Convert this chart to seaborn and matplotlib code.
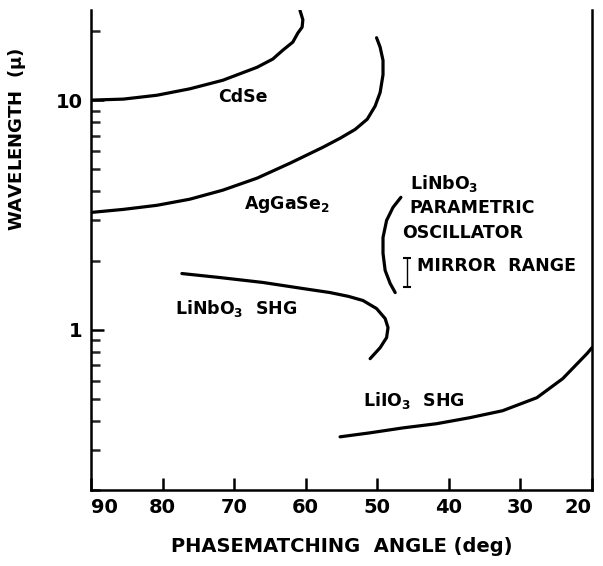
import numpy as np
import pandas as pd
import matplotlib
matplotlib.use("Agg")
import matplotlib.pyplot as plt
import seaborn as sns
from matplotlib.ticker import FixedLocator, NullFormatter, FixedFormatter

# ---- data (angle in deg, wavelength in microns) ----
cdse_angle = [90.0, 85.5, 80.8, 76.2, 71.6, 66.8, 64.6, 63.2, 61.8, 61.1, 60.5, 60.4, 60.8]
cdse_wl = [10.0, 10.1, 10.5, 11.2, 12.2, 13.9, 15.1, 16.5, 17.9, 19.6, 20.8, 22.4, 24.6]

aggase_angle = [90.0, 85.5, 80.8, 76.2, 71.6, 66.8, 62.2, 57.6, 55.2, 53.1, 51.4, 50.3, 49.6,
                49.2, 49.2, 49.6, 50.1]
aggase_wl = [3.24, 3.34, 3.48, 3.70, 4.05, 4.57, 5.31, 6.23, 6.82, 7.45, 8.26, 9.42, 10.8,
             12.9, 14.9, 17.0, 18.7]

linbo_shg_angle = [77.3, 72.0, 66.0, 60.4, 56.6, 54.0, 52.0, 50.1, 48.9, 48.5, 48.7, 49.6, 51.0]
linbo_shg_wl = [1.755, 1.686, 1.605, 1.51, 1.45, 1.395, 1.339, 1.235, 1.117, 1.02, 0.923,
                0.834, 0.747]

liio_angle = [55.2, 51.0, 46.4, 41.7, 37.1, 32.5, 27.7, 24.1, 20.7, 20.0]
liio_wl = [0.341, 0.355, 0.373, 0.389, 0.413, 0.443, 0.505, 0.611, 0.786, 0.834]

opo_angle = [46.7, 47.8, 48.7, 49.2, 49.2, 48.9, 48.2, 47.5]
opo_wl = [3.77, 3.41, 2.99, 2.52, 2.15, 1.81, 1.588, 1.45]

mirror_angle = 45.9
mirror_lo, mirror_hi = 1.53, 2.06

x_ticks = [90, 80, 70, 60, 50, 40, 30, 20]
y_major = [1, 10]
y_major_labels = ["1", "10"]
y_minor = [0.2, 0.3, 0.4, 0.5, 0.6, 0.7, 0.8, 0.9, 2, 3, 4, 5, 6, 7, 8, 9, 20]

xlabel = "PHASEMATCHING  ANGLE (deg)"
ylabel = "WAVELENGTH  ($\\mu$)"

# ---- build long table ----
frames = []
for name, a, w in [("CdSe", cdse_angle, cdse_wl),
                   ("AgGaSe2", aggase_angle, aggase_wl),
                   ("LiNbO3 SHG", linbo_shg_angle, linbo_shg_wl),
                   ("LiIO3 SHG", liio_angle, liio_wl),
                   ("OPO", opo_angle, opo_wl)]:
    frames.append(pd.DataFrame({"angle": a, "wl": w, "crystal": name}))
df = pd.concat(frames, ignore_index=True)

sns.set_theme(style="ticks")
plt.rcParams["font.family"] = ["DejaVu Sans"]
plt.rcParams["mathtext.fontset"] = "custom"
plt.rcParams["mathtext.rm"] = "DejaVu Sans:bold"
plt.rcParams["mathtext.it"] = "DejaVu Sans:bold"
plt.rcParams["mathtext.bf"] = "DejaVu Sans:bold"
plt.rcParams["text.color"] = "black"
plt.rcParams["axes.labelcolor"] = "black"
plt.rcParams["font.weight"] = "bold"

fig = plt.figure(figsize=(6.03, 5.66), dpi=100)
ax = fig.add_axes([91/603, 1 - 490/566, (592 - 91)/603, (490 - 10)/566])

for name, sub in df.groupby("crystal", sort=False):
    sns.lineplot(data=sub, x="angle", y="wl", sort=False, estimator=None,
                 color="black", lw=2.3, ax=ax, legend=False)
for line in ax.get_lines():
    line.set_solid_joinstyle("round")
    line.set_solid_capstyle("round")

mid = np.sqrt(mirror_lo * mirror_hi)
ax.errorbar([mirror_angle], [mid], yerr=[[mid - mirror_lo], [mirror_hi - mid]],
            fmt="none", ecolor="black", elinewidth=1.0, capsize=3, capthick=1.5)

ax.set_yscale("log")
ax.set_xlim(90, 20)
ax.set_ylim(0.2, 24.7)

ax.xaxis.set_major_locator(FixedLocator(x_ticks))
ax.set_xticklabels([str(t) for t in x_ticks], fontweight="bold")
ax.yaxis.set_major_locator(FixedLocator(y_major))
ax.yaxis.set_major_formatter(FixedFormatter(y_major_labels))
ax.yaxis.set_minor_locator(FixedLocator(y_minor))
ax.yaxis.set_minor_formatter(NullFormatter())

ax.tick_params(axis="both", which="major", direction="in", length=9, width=1.8,
               labelsize=14, colors="black", pad=6)
ax.tick_params(axis="y", which="minor", direction="in", length=6.5, width=1.8)
ax.tick_params(axis="x", which="minor", length=0)
for lab in ax.get_yticklabels():
    lab.set_fontweight("bold")
xl = ax.get_xticklabels()
xl[0].set_horizontalalignment("left")
xl[-1].set_horizontalalignment("right")

for side in ["left", "bottom", "right"]:
    ax.spines[side].set_linewidth(1.8)
    ax.spines[side].set_color("black")
ax.spines["top"].set_visible(False)

ax.set_xlabel(xlabel, fontsize=14, labelpad=14, fontweight="bold")
ax.set_ylabel(ylabel, fontsize=13, fontweight="bold")
ax.yaxis.set_label_coords(-0.125, 0.73)

ts = 12.5
kw = dict(fontsize=ts, fontweight="bold", color="black")
ax.text(68.8, 10.3, "CdSe", ha="center", va="center", **kw)
ax.text(62.6, 3.51, "AgGaSe$_2$", ha="center", va="center", **kw)
ax.text(78.3, 1.235, "LiNbO$_3$  SHG", ha="left", va="center", **kw)
ax.text(52.0, 0.49, "LiIO$_3$  SHG", ha="left", va="center", **kw)
ax.text(45.45, 4.34, "LiNbO$_3$", ha="left", va="center", **kw)
ax.text(45.45, 3.38, "PARAMETRIC", ha="left", va="center", **kw)
ax.text(46.57, 2.63, "OSCILLATOR", ha="left", va="center", **kw)
ax.text(44.47, 1.90, "MIRROR  RANGE", ha="left", va="center", **kw)

fig.savefig("out.png", dpi=100, facecolor="white")
